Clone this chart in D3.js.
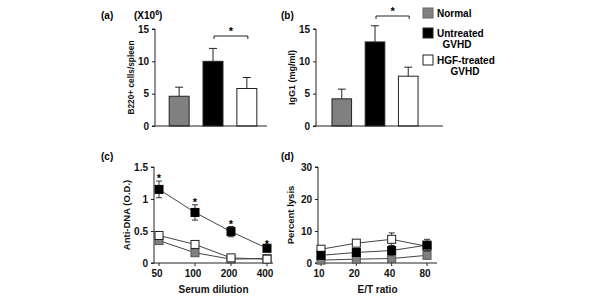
<!DOCTYPE html>
<html><head><meta charset="utf-8">
<script src="https://cdn.jsdelivr.net/npm/d3@7"></script>
<style>body{margin:0;background:#fff}svg{display:block;font-family:"Liberation Sans",Arial,sans-serif;font-weight:bold}</style>
</head><body><svg id="c" width="600" height="300"></svg>
<script>
const groups = ["Normal", "Untreated GVHD", "HGF-treated GVHD"];
const groupFill = ["#808080", "#000000", "#ffffff"];
const b220 = [4.6, 10.0, 5.8];
const b220Err = [1.4, 2.0, 1.7];
const igg1 = [4.2, 13.0, 7.7];
const igg1Err = [1.5, 2.5, 1.4];
const barTicks = [0, 5, 10, 15];

const dilutions = [50, 100, 200, 400];
const dnaNormal = [0.35, 0.16, 0.06, 0.07];
const dnaUntreated = [1.15, 0.79, 0.49, 0.23];
const dnaHgf = [0.43, 0.29, 0.08, 0.06];
const dnaErrNormal = [0.02, 0.02, 0.01, 0.01];
const dnaErrUntreated = [0.13, 0.12, 0.08, 0.02];
const dnaErrHgf = [0.02, 0.02, 0.01, 0.01];
const dnaSig = [true, true, true, true];
const dnaTicks = [0, 0.5, 1, 1.5];

const etRatios = [10, 20, 40, 80];
const lysNormal = [0.9, 1.2, 1.4, 2.4];
const lysUntreated = [2.4, 3.3, 3.9, 5.6];
const lysHgf = [4.3, 6.2, 7.4, 5.2];
const lysErrNormal = [0.3, 0.3, 0.4, 0.5];
const lysErrUntreated = [0.5, 0.6, 1.6, 1.8];
const lysErrHgf = [0.6, 0.9, 2.0, 0.5];
const lysTicks = [0, 10, 20, 30];

const svg = d3.select("#c");
const AX = "#222";

function yAxis(g, y, ticks, fmt) {
  const ax = d3.axisLeft(y).tickValues(ticks).tickSize(3).tickPadding(3).tickFormat(fmt || d3.format("~g"));
  g.call(ax);
  g.select(".domain").attr("stroke", AX).attr("d", `M-3,${y.range()[0]}H0V${y.range()[1]}H-3`);
  g.selectAll(".tick line").attr("stroke", AX);
  g.selectAll("text").attr("font-size", 10).attr("font-weight", "bold").attr("fill", "#111").attr("font-family", "Liberation Sans, Arial, sans-serif");
}

function barPanel(x0, x1, bandRange, vals, errs, label, labelSize, sig, sigY) {
  const y = d3.scaleLinear().domain([0, 15]).range([126, 29]);
  const x = d3.scaleBand().domain(groups).range(bandRange).paddingInner(0.41).paddingOuter(0.33);
  const g = svg.append("g");
  // bars
  groups.forEach((k, i) => {
    const bx = x(k), bw = x.bandwidth();
    const top = y(vals[i]), et = y(vals[i] + errs[i]);
    g.append("line").attr("x1", bx + bw / 2).attr("x2", bx + bw / 2).attr("y1", top).attr("y2", et).attr("stroke", "#222");
    g.append("line").attr("x1", bx + bw / 2 - 4).attr("x2", bx + bw / 2 + 4).attr("y1", et).attr("y2", et).attr("stroke", "#222");
    g.append("rect").attr("x", bx).attr("y", top).attr("width", bw).attr("height", y(0) - top)
      .attr("fill", groupFill[i]).attr("stroke", "#222").attr("stroke-width", 1);
  });
  g.append("line").attr("x1", x0).attr("x2", x1).attr("y1", y(0)).attr("y2", y(0)).attr("stroke", AX);
  const ya = g.append("g").attr("transform", `translate(${x0},0)`);
  yAxis(ya, y, barTicks);
  // significance bracket between untreated and HGF
  const c1 = x(groups[1]) + x.bandwidth() / 2 + 1, c2 = x(groups[2]) + x.bandwidth() / 2 + 1;
  g.append("path").attr("d", `M${c1},${sigY + 3}V${sigY}H${c2}V${sigY + 3}`).attr("fill", "none").attr("stroke", "#222");
  g.append("text").attr("x", (c1 + c2) / 2).attr("y", sigY - 1).attr("text-anchor", "middle").attr("font-size", 11).text("*");
  // y label
  g.append("text").attr("transform", `translate(${x0 - 21},${(y(0) + y(15)) / 2}) rotate(-90)`)
    .attr("text-anchor", "middle").attr("font-size", labelSize).attr("fill", "#111").text(label);
  return { x, y };
}

// (a)
barPanel(155, 267, [158, 268], b220, b220Err, "B220+ cells/spleen", 8.3, true, 36);
svg.append("text").attr("x", 101).attr("y", 19).attr("font-size", 10).text("(a)");
const xt = svg.append("text").attr("x", 134).attr("y", 19).attr("font-size", 10);
xt.append("tspan").text("(X10");
xt.append("tspan").attr("font-size", 7).attr("dy", -4).text("6");
xt.append("tspan").attr("dy", 4).text(")");

// (b)
barPanel(316, 443, [321, 429], igg1, igg1Err, "IgG1 (mg/ml)", 9, true, 16);
svg.append("text").attr("x", 281).attr("y", 19).attr("font-size", 10).text("(b)");

// legend
const lg = svg.append("g");
const legY = [8, 28, 55];
groups.forEach((k, i) => {
  lg.append("rect").attr("x", 423).attr("y", legY[i]).attr("width", 10).attr("height", 10)
    .attr("fill", groupFill[i]).attr("stroke", i === 0 ? "#666" : "#222");
});
lg.append("text").attr("x", 437).attr("y", 17).attr("font-size", 10).text("Normal");
lg.append("text").attr("x", 437).attr("y", 37).attr("font-size", 10).text("Untreated");
lg.append("text").attr("x", 457).attr("y", 48).attr("font-size", 10).attr("text-anchor", "middle").text("GVHD");
lg.append("text").attr("x", 437).attr("y", 64).attr("font-size", 10).text("HGF-treated");
lg.append("text").attr("x", 465).attr("y", 75).attr("font-size", 10).attr("text-anchor", "middle").text("GVHD");

function linePanel(axX, axEnd, pRange, cats, domMax, ticks, series, yLabel, xLabel, sig) {
  const y = d3.scaleLinear().domain([0, domMax]).range([263, 167]);
  const x = d3.scalePoint().domain(cats).range(pRange);
  const g = svg.append("g");
  g.append("line").attr("x1", axX).attr("x2", axEnd).attr("y1", y(0)).attr("y2", y(0)).attr("stroke", AX);
  cats.forEach(c => {
    g.append("line").attr("x1", x(c)).attr("x2", x(c)).attr("y1", y(0)).attr("y2", y(0) + 3).attr("stroke", AX);
    g.append("text").attr("x", x(c) - 2).attr("y", y(0) + 14).attr("text-anchor", "middle").attr("font-size", 10).attr("fill", "#111").text(c);
  });
  const ya = g.append("g").attr("transform", `translate(${axX},0)`);
  yAxis(ya, y, ticks);
  const line = d3.line().x((d, i) => x(cats[i])).y(d => y(d));
  series.forEach(s => {
    g.append("path").attr("d", line(s.v)).attr("fill", "none").attr("stroke", "#444").attr("stroke-width", 1);
  });
  series.forEach(s => {
    s.v.forEach((v, i) => {
      const cx = x(cats[i]), e = s.e[i];
      if (e > 0.05 * domMax / 3) {
        g.append("line").attr("x1", cx).attr("x2", cx).attr("y1", y(v + e)).attr("y2", y(v - e)).attr("stroke", "#333");
        [v + e, v - e].forEach(t => g.append("line").attr("x1", cx - 3).attr("x2", cx + 3).attr("y1", y(t)).attr("y2", y(t)).attr("stroke", "#333"));
      }
    });
    s.v.forEach((v, i) => {
      g.append("rect").attr("x", x(cats[i]) - 4).attr("y", y(v) - 4).attr("width", 8).attr("height", 8)
        .attr("fill", s.fill).attr("stroke", s.stroke).attr("stroke-width", 1);
    });
  });
  if (sig) {
    const s = series[series.length - 1];
    s.v.forEach((v, i) => {
      if (sig[i]) g.append("text").attr("x", x(cats[i])).attr("y", y(v + s.e[i]) + 1).attr("text-anchor", "middle").attr("font-size", 11).text("*");
    });
  }
  g.append("text").attr("transform", `translate(${axX - 24},${(y(0) + y(domMax)) / 2}) rotate(-90)`)
    .attr("text-anchor", "middle").attr("font-size", 9.5).attr("fill", "#111").text(yLabel);
  g.append("text").attr("x", (axX + axEnd) / 2).attr("y", 293).attr("text-anchor", "middle").attr("font-size", 10).attr("fill", "#111").text(xLabel);
}

linePanel(154, 273, [159, 267], dilutions, 1.5, dnaTicks, [
  { v: dnaNormal, e: dnaErrNormal, fill: "#808080", stroke: "#555" },
  { v: dnaHgf, e: dnaErrHgf, fill: "#ffffff", stroke: "#222" },
  { v: dnaUntreated, e: dnaErrUntreated, fill: "#000000", stroke: "#000" }
], "Anti-DNA (O.D.)", "Serum dilution", dnaSig);
svg.append("text").attr("x", 101).attr("y", 160).attr("font-size", 10).text("(c)");

linePanel(318, 437, [321, 427], etRatios, 30, lysTicks, [
  { v: lysNormal, e: lysErrNormal, fill: "#808080", stroke: "#555" },
  { v: lysHgf, e: lysErrHgf, fill: "#ffffff", stroke: "#222" },
  { v: lysUntreated, e: lysErrUntreated, fill: "#000000", stroke: "#000" }
], "Percent lysis", "E/T ratio", null);
svg.append("text").attr("x", 281).attr("y", 160).attr("font-size", 10).text("(d)");
</script></body></html>
